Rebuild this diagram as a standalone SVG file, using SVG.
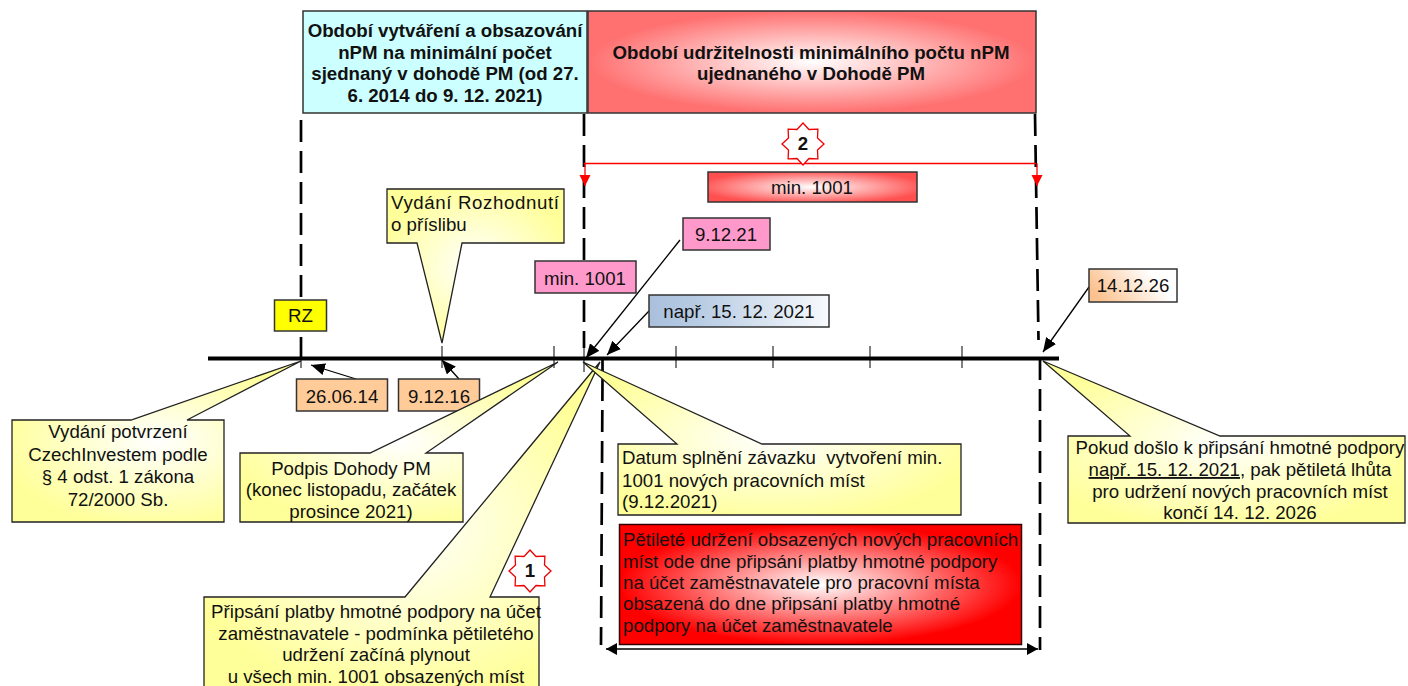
<svg xmlns="http://www.w3.org/2000/svg" width="1408" height="686" viewBox="0 0 1408 686">
<style>
text{font-family:"Liberation Sans",Arial,sans-serif;font-size:18.67px;fill:#111;white-space:pre}
.c{text-anchor:middle}
.b{font-weight:bold}
.box{stroke:#333;stroke-width:1.5}
.callout{stroke:#222;stroke-width:1.3}
.dash{fill:none;stroke:#000;stroke-width:2.700;stroke-dasharray:22 9}
.tick{stroke:#000;stroke-width:1}
.arr{stroke:#000;stroke-width:1.3;fill:none;marker-end:url(#ah)}
.red{stroke:#f00;stroke-width:1.3;fill:none}
.star{fill:#fff;stroke:#e00;stroke-width:1.3}
</style>
<defs>
<marker id="ah" markerUnits="userSpaceOnUse" markerWidth="16" markerHeight="12" refX="14" refY="6" orient="auto"><path d="M0 0L14 6L0 12Z" fill="#000"/></marker>
<marker id="rh" markerUnits="userSpaceOnUse" markerWidth="12" markerHeight="12" refX="11" refY="5.5" orient="auto"><path d="M0 0L11 5.500L0 11Z" fill="#f00"/></marker>
<marker id="bh" markerUnits="userSpaceOnUse" markerWidth="12" markerHeight="14" refX="11" refY="6" orient="auto-start-reverse"><path d="M0 0L11 6L0 12Z" fill="#000"/></marker>
<radialGradient id="gY" cx=".5" cy=".5" r=".55"><stop offset="0" stop-color="#fff"/><stop offset="1" stop-color="#ffff99"/></radialGradient>
<radialGradient id="gR" cx=".5" cy=".5" r=".5"><stop offset="0" stop-color="#fff"/><stop offset="1" stop-color="#f00"/></radialGradient>
<radialGradient id="gRL" cx=".5" cy=".5" r=".5"><stop offset="0" stop-color="#fff"/><stop offset="1" stop-color="#ff7070"/></radialGradient>
<radialGradient id="gRM" cx=".5" cy=".5" r=".55"><stop offset="0" stop-color="#fff"/><stop offset="1" stop-color="#ff5050"/></radialGradient>
<linearGradient id="gB" x1="0" x2="1" y1="0" y2="0"><stop offset="0" stop-color="#a9bfdc"/><stop offset=".3" stop-color="#b9cde4"/><stop offset="1" stop-color="#f8fafd"/></linearGradient>
<linearGradient id="gO" x1="0" x2="1" y1=".5" y2=".2"><stop offset="0" stop-color="#fbc28f"/><stop offset=".75" stop-color="#fff"/><stop offset="1" stop-color="#fff"/></linearGradient>
<polygon id="star" points="21,0 14.500,6 14.900,14.900 6,14.500 0,21 -6,14.500 -14.900,14.900 -14.500,6 -21,0 -14.500,-6 -14.900,-14.900 -6,-14.500 0,-21 6,-14.500 14.900,-14.900 14.500,-6"/>
</defs>

<g id="connectors">
<line class="dash" x1="301" y1="120" x2="301" y2="358"/>
<line class="dash" x1="584" y1="114" x2="584" y2="348"/>
<line class="dash" x1="1035" y1="114" x2="1038.500" y2="340"/>
<line class="dash" x1="602.500" y1="360" x2="602.500" y2="371"/>
<line class="dash" x1="602.500" y1="379" x2="601" y2="645"/>
<line class="dash" x1="1040" y1="358" x2="1040" y2="650"/>
<rect x="208" y="356.500" width="851" height="4" fill="#000"/>
<g class="tick">
<line x1="301" y1="346" x2="301" y2="368"/>
<line x1="442" y1="346" x2="442" y2="368"/>
<line x1="554" y1="346" x2="554" y2="368"/>
<line x1="584" y1="346" x2="584" y2="372"/>
<line x1="676" y1="346" x2="676" y2="368"/>
<line x1="773" y1="346" x2="773" y2="368"/>
<line x1="870" y1="346" x2="870" y2="368"/>
<line x1="962" y1="346" x2="962" y2="368"/>
</g>
<path class="red" d="M584 163.500H1036"/>
<path class="red" d="M585 163.500V186" marker-end="url(#rh)"/>
<path class="red" d="M1037 163.500V186" marker-end="url(#rh)"/>
<line class="arr" x1="356" y1="379" x2="311" y2="365"/>
<line class="arr" x1="459" y1="379" x2="442" y2="360"/>
<line class="arr" x1="680" y1="240" x2="586" y2="358"/>
<line class="arr" x1="649" y1="311" x2="607" y2="355"/>
<line class="arr" x1="1089" y1="287" x2="1043" y2="352"/>
<line x1="606" y1="649" x2="1038" y2="649" stroke="#000" stroke-width="1.500" marker-start="url(#bh)" marker-end="url(#bh)"/>
</g>

<g id="period-create"><rect class="box" x="303" y="11" width="284" height="102" fill="#ccffff"/>
<text class="c b" x="445" y="37">Období vytváření a obsazování</text>
<text class="c b" x="445" y="59">nPM na minimální počet</text>
<text class="c b" x="445" y="80">sjednaný v dohodě PM (od 27.</text>
<text class="c b" x="445" y="102">6. 2014 do 9. 12. 2021)</text></g>

<g id="period-sustain"><rect class="box" x="588" y="11" width="448" height="102" fill="url(#gRL)"/>
<text class="c b" x="811" y="59">Období udržitelnosti minimálního počtu nPM</text>
<text class="c b" x="811" y="80">ujednaného v Dohodě PM</text></g>

<g id="star-2"><use href="#star" class="star" x="803" y="144"/><text class="c b" x="803" y="150">2</text></g>
<g id="min-red"><rect class="box" x="708" y="172" width="209" height="30" fill="url(#gRM)"/><text class="c" x="812" y="194">min. 1001</text></g>

<g id="rozhodnuti"><path class="callout" d="M387 189H564V243H462L442 343L417 243H387Z" fill="url(#gY)"/>
<text x="391" y="209" textLength="168">Vydání Rozhodnutí</text><text x="391" y="231">o příslibu</text></g>

<g id="rz"><rect class="box" x="274.500" y="300" width="52" height="31" fill="#ffff00"/><text class="c" x="300.500" y="322">RZ</text></g>
<g id="min-pink"><rect class="box" x="535" y="261" width="101" height="32" fill="#ff99cc"/><text class="c" x="585" y="285">min. 1001</text></g>
<g id="d91221"><rect class="box" x="683" y="218" width="87" height="32" fill="#ff99cc"/><text class="c" x="726" y="241">9.12.21</text></g>
<g id="d151221"><rect class="box" x="649" y="295" width="180" height="32" fill="url(#gB)"/><text class="c" x="739" y="318">např. 15. 12. 2021</text></g>
<g id="d141226"><rect class="box" x="1089" y="269" width="88" height="33" fill="url(#gO)"/><text class="c" x="1133" y="292">14.12.26</text></g>
<g id="d260614"><rect class="box" x="296.500" y="379" width="91" height="32" fill="#ffcc99"/><text class="c" x="342" y="403">26.06.14</text></g>
<g id="d91216"><rect class="box" x="398.500" y="379" width="81" height="32" fill="#ffcc99"/><text class="c" x="439" y="403">9.12.16</text></g>

<g id="potvrzeni"><path class="callout" d="M12 420H131L301 361L187 420H224V522H12Z" fill="url(#gY)"/>
<text class="c" x="118" y="438">Vydání potvrzení</text>
<text class="c" x="118" y="461">CzechInvestem podle</text>
<text class="c" x="118" y="483">§ 4 odst. 1 zákona</text>
<text class="c" x="118" y="506">72/2000 Sb.</text></g>

<g id="podpis"><path class="callout" d="M240 453H370L558 362L426 453H463V522H240Z" fill="url(#gY)"/>
<text class="c" x="351" y="475">Podpis Dohody PM</text>
<text class="c" x="351" y="496">(konec listopadu, začátek</text>
<text class="c" x="351" y="518">prosince 2021)</text></g>

<g id="pripsani"><path class="callout" d="M204 597H405L600 362L490 597H539V690H204Z" fill="url(#gY)"/>
<text class="c" x="376" y="618">Připsání platby hmotné podpory na účet</text>
<text class="c" x="376" y="640">zaměstnavatele - podmínka pětiletého</text>
<text class="c" x="376" y="661">udržení začíná plynout</text>
<text class="c" x="376" y="683">u všech min. 1001 obsazených míst</text></g>
<g id="star-1"><use href="#star" class="star" x="530" y="571"/><text class="c b" x="530" y="577">1</text></g>

<g id="datum"><path class="callout" d="M618 444H677L583 362L762 444H961V515H618Z" fill="url(#gY)"/>
<text x="622" y="464">Datum splnění závazku  vytvoření min.</text>
<text x="622" y="487">1001 nových pracovních míst</text>
<text x="622" y="508">(9.12.2021)</text></g>

<g id="udrzeni"><rect x="619.500" y="524.500" width="402" height="120" fill="url(#gR)" stroke="#300" stroke-width="1.500"/>
<text x="623" y="546">Pětileté udržení obsazených nových pracovních</text>
<text x="623" y="568">míst ode dne připsání platby hmotné podpory</text>
<text x="623" y="589">na účet zaměstnavatele pro pracovní místa</text>
<text x="623" y="610">obsazená do dne připsání platby hmotné</text>
<text x="623" y="632">podpory na účet zaměstnavatele</text></g>

<g id="pokud"><path class="callout" d="M1068 436H1130L1043 361L1220 436H1405V523H1068Z" fill="url(#gY)"/>
<text class="c" x="1240" y="454">Pokud došlo k připsání hmotné podpory</text>
<text class="c" x="1240" y="476"><tspan text-decoration="underline">např. 15. 12. 2021</tspan>, pak pětiletá lhůta</text>
<text class="c" x="1240" y="498">pro udržení nových pracovních míst</text>
<text class="c" x="1240" y="519">končí 14. 12. 2026</text></g>
</svg>
